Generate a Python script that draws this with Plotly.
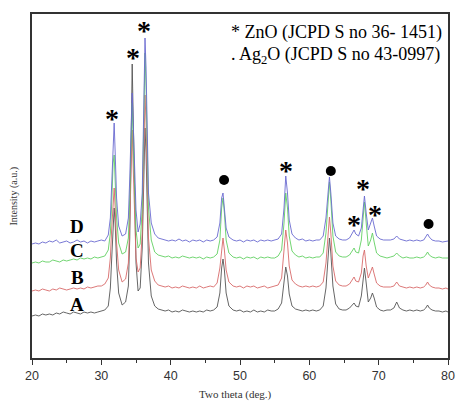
import plotly.graph_objects as go

# Two-theta grid (deg.)
two_theta = [
    20.0, 20.5, 21.0, 21.5, 22.0, 22.5, 23.0, 23.5, 24.0, 24.5,
    25.0, 25.5, 26.0, 26.5, 27.0, 27.5, 28.0, 28.5, 29.0, 29.5,
    30.0, 30.5, 31.0, 31.3, 31.5, 31.7, 31.85, 32.0, 32.2, 32.5,
    33.0, 33.5, 33.9, 34.1, 34.3, 34.45, 34.6, 34.8, 35.0, 35.3,
    35.6, 35.9, 36.1, 36.3, 36.45, 36.6, 36.8, 37.2, 37.7, 38.2,
    38.7, 39.2, 39.7, 40.2, 40.7, 41.2, 41.7, 42.2, 42.7, 43.2,
    43.7, 44.2, 44.7, 45.2, 45.7, 46.2, 46.7, 47.1, 47.35, 47.55,
    47.75, 48.0, 48.4, 49.0, 49.5, 50.0, 50.5, 51.0, 51.5, 52.0,
    52.5, 53.0, 53.5, 54.0, 54.5, 55.0, 55.5, 56.0, 56.35, 56.6,
    56.85, 57.1, 57.5, 58.0, 58.5, 59.0, 59.5, 60.0, 60.5, 61.0,
    61.5, 62.0, 62.4, 62.7, 62.9, 63.1, 63.4, 63.8, 64.3, 64.8,
    65.3, 65.8, 66.2, 66.45, 66.7, 67.1, 67.5, 67.75, 67.95, 68.2,
    68.5, 68.85, 69.1, 69.35, 69.7, 70.2, 70.7, 71.2, 71.7, 72.2,
    72.6, 73.0, 73.5, 74.0, 74.5, 75.0, 75.5, 76.0, 76.5, 76.8,
    77.05, 77.3, 77.7, 78.2, 78.7, 79.2, 79.7, 80.0,
]

intensity_A = [
    42, 43, 42, 44, 43, 44, 43, 45, 44, 46,
    45, 44, 46, 45, 44, 46, 45, 46, 45, 46,
    47, 48, 52, 70, 100, 138, 150, 135, 95, 65,
    53, 56, 72, 120, 250, 294, 240, 150, 95, 67,
    70, 110, 180, 230, 205, 145, 95, 62, 52, 49,
    48, 47, 48, 46, 47, 46, 48, 47, 46, 47,
    46, 47, 46, 48, 47, 48, 51, 65, 90, 99,
    88, 65, 52, 48, 47, 48, 46, 47, 46, 48,
    46, 47, 46, 48, 47, 47, 49, 55, 75, 91,
    82, 64, 52, 49, 48, 47, 48, 47, 48, 47,
    48, 52, 70, 100, 120, 105, 72, 54, 49, 48,
    48, 50, 53, 55, 52, 51, 62, 82, 90, 75,
    56, 60, 65, 60, 51, 48, 47, 48, 48, 50,
    56, 50, 48, 47, 48, 47, 48, 47, 48, 50,
    53, 50, 48, 47, 47, 46, 47, 46,
]

intensity_B = [
    67, 68, 67, 69, 68, 67, 69, 68, 70, 69,
    68, 69, 70, 69, 70, 69, 71, 70, 71, 72,
    72, 74, 80, 100, 130, 162, 170, 150, 115, 88,
    76, 79, 95, 135, 205, 228, 190, 135, 100, 86,
    90, 125, 200, 263, 235, 170, 120, 88, 77, 73,
    72, 71, 72, 70, 71, 70, 72, 71, 70, 71,
    70, 72, 70, 71, 72, 71, 75, 90, 112, 120,
    108, 88, 76, 72, 71, 72, 70, 72, 71, 72,
    70, 71, 72, 70, 71, 72, 73, 80, 105, 128,
    115, 92, 78, 74, 72, 71, 72, 71, 72, 71,
    72, 76, 95, 125, 141, 125, 92, 77, 73, 72,
    72, 74, 79, 81, 77, 76, 85, 102, 108, 92,
    80, 86, 91, 84, 75, 72, 71, 71, 71, 72,
    76, 72, 71, 70, 71, 70, 71, 70, 71, 73,
    76, 73, 71, 70, 70, 69, 70, 69,
]

intensity_C = [
    95, 96, 95, 97, 96, 96, 98, 97, 96, 98,
    97, 98, 99, 98, 100, 99, 100, 99, 101, 100,
    101, 102, 108, 125, 155, 195, 203, 180, 140, 115,
    104, 106, 120, 160, 230, 255, 215, 160, 128, 110,
    114, 150, 230, 305, 270, 200, 150, 118, 106, 103,
    102, 101, 102, 100, 101, 100, 102, 101, 100, 101,
    100, 101, 99, 101, 100, 101, 104, 118, 150, 160,
    145, 118, 105, 101, 100, 101, 99, 101, 100, 101,
    99, 101, 100, 101, 100, 100, 102, 108, 135, 165,
    150, 122, 107, 103, 101, 102, 100, 101, 100, 101,
    101, 105, 125, 155, 176, 158, 122, 106, 102, 101,
    101, 103, 108, 110, 106, 105, 118, 145, 156, 135,
    112, 118, 125, 116, 105, 102, 101, 100, 101, 102,
    105, 102, 100, 101, 100, 100, 101, 100, 101, 103,
    106, 103, 101, 100, 101, 100, 100, 100,
]

intensity_D = [
    114, 115, 114, 116, 115, 117, 116, 118, 115, 116,
    117, 115, 116, 118, 116, 117, 115, 117, 116, 117,
    118, 117, 123, 140, 175, 220, 235, 205, 160, 132,
    122, 124, 140, 180, 245, 265, 235, 180, 148, 126,
    134, 165, 240, 320, 290, 215, 165, 135, 124, 120,
    119, 118, 117, 118, 117, 119, 117, 118, 116, 118,
    117, 118, 116, 118, 117, 118, 121, 135, 160, 165,
    150, 130, 121, 118, 117, 118, 116, 118, 117, 118,
    116, 118, 117, 118, 117, 118, 119, 124, 150, 182,
    165, 138, 124, 120, 118, 119, 117, 118, 117, 118,
    118, 122, 140, 165, 181, 165, 135, 122, 119, 118,
    118, 120, 125, 128, 124, 122, 130, 152, 162, 145,
    128, 135, 140, 132, 122, 119, 118, 118, 118, 119,
    122, 119, 118, 117, 118, 117, 118, 117, 118, 121,
    124, 121, 118, 117, 117, 116, 117, 117,
]

series_names = ["A", "B", "C", "D"]
series_colors = ["#555555", "#d86a6a", "#62d062", "#6a6ad0"]

# Peak markers
zno_x = [31.6, 34.6, 36.2, 56.7, 66.5, 67.8, 69.5]
zno_y = [246, 307, 334, 194, 140, 176, 150]
ag2o_x = [47.7, 63.1, 77.2]
ag2o_y = [178, 187, 134]

# Sample labels
label_x = [26.5, 26.5, 26.5, 26.5]
label_y = [54, 81, 108, 132]

fig = go.Figure()
for name, col, ys in zip(series_names, series_colors,
                         [intensity_A, intensity_B, intensity_C, intensity_D]):
    fig.add_trace(go.Scatter(x=two_theta, y=ys, mode="lines", name=name,
                             line=dict(color=col, width=0.9), showlegend=False))

fig.add_trace(go.Scatter(x=ag2o_x, y=ag2o_y, mode="markers", showlegend=False,
                         marker=dict(symbol="circle", size=10, color="black")))

for xx, yy in zip(zno_x, zno_y):
    fig.add_annotation(x=xx, y=yy, xref="x", yref="y", text="<b>*</b>",
                       showarrow=False, yshift=-6,
                       font=dict(family="Liberation Serif", size=28, color="black"))

for name, xx, yy in zip(series_names, label_x, label_y):
    fig.add_annotation(x=xx, y=yy, xref="x", yref="y", text="<b>" + name + "</b>",
                       showarrow=False,
                       font=dict(family="Liberation Serif", size=19, color="black"))

fig.add_annotation(x=48.4, y=326, xref="x", yref="y", xanchor="left", yanchor="middle",
                   text="* ZnO (JCPD S no 36- 1451)", showarrow=False,
                   font=dict(family="Liberation Serif", size=18, color="black"))
fig.add_annotation(x=48.4, y=303, xref="x", yref="y", xanchor="left", yanchor="middle",
                   text=". Ag<sub>2</sub>O (JCPD S no 43-0997)", showarrow=False,
                   font=dict(family="Liberation Serif", size=18, color="black"))

fig.add_annotation(x=-0.0426, y=0.47, xref="paper", yref="paper", text="Intensity (a.u.)",
                   showarrow=False, textangle=-90, xanchor="center", yanchor="middle",
                   font=dict(family="Liberation Serif", size=10, color="#333333"))
fig.add_annotation(x=0.49, y=-0.105, xref="paper", yref="paper", text="Two theta (deg.)",
                   showarrow=False, xanchor="center", yanchor="middle",
                   font=dict(family="Liberation Serif", size=11, color="#333333"))

fig.update_layout(
    width=461, height=401,
    margin=dict(l=32, r=6, t=14, b=43),
    paper_bgcolor="white", plot_bgcolor="white",
    xaxis=dict(range=[20, 80], tickvals=[20, 30, 40, 50, 60, 70, 80],
               ticks="outside", ticklen=5, tickwidth=1.2, tickcolor="#333",
               minor=dict(tickvals=[25, 35, 45, 55, 65, 75], ticks="outside",
                          ticklen=3, tickwidth=1.2, tickcolor="#333"),
               showline=True, linecolor="#333", linewidth=1.5, mirror=True,
               showgrid=False, zeroline=False,
               tickfont=dict(family="Liberation Sans", size=12.5, color="#333")),
    yaxis=dict(range=[0, 344], showticklabels=False, ticks="",
               showline=True, linecolor="#333", linewidth=1.5, mirror=True,
               showgrid=False, zeroline=False),
)

fig.write_html("out.html")
